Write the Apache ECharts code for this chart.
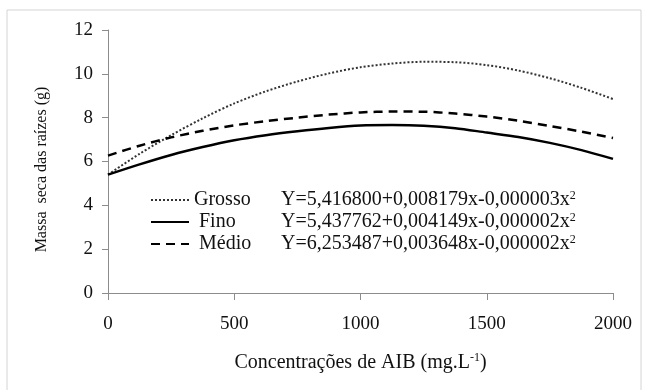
<!DOCTYPE html>
<html>
<head>
<meta charset="utf-8">
<script src="https://cdn.jsdelivr.net/npm/echarts@6/dist/echarts.min.js"></script>
<style>
  html, body { margin: 0; padding: 0; background: #fff; }
  #chart { width: 650px; height: 390px; }
</style>
</head>
<body>
<div id="chart"></div>
<script>
const concentrations = [0, 125, 250, 375, 500, 625, 750, 875, 1000, 1125, 1250, 1375, 1500, 1625, 1750, 1875, 2000]
const grosso = [5.4, 6.35, 7.2, 7.97, 8.65, 9.2, 9.65, 10.02, 10.3, 10.47, 10.55, 10.53, 10.4, 10.15, 9.8, 9.36, 8.85]
const fino = [5.4, 5.87, 6.3, 6.66, 6.97, 7.2, 7.38, 7.53, 7.64, 7.66, 7.63, 7.52, 7.32, 7.12, 6.85, 6.52, 6.12]
const medio = [6.27, 6.72, 7.1, 7.4, 7.65, 7.84, 8.0, 8.14, 8.24, 8.28, 8.27, 8.19, 8.05, 7.86, 7.62, 7.36, 7.07]

const seriesNames = ['Grosso', 'Fino', 'Médio']
const equations = [
  'Y=5,416800+0,008179x-0,000003x',
  'Y=5,437762+0,004149x-0,000002x',
  'Y=6,253487+0,003648x-0,000002x'
]

const font = 'Liberation Serif'
const chart = echarts.init(document.getElementById('chart'))

const pairs = vals => concentrations.map((x, i) => [x, vals[i]])

const lineSeries = (name, vals, type, width, color) => ({
  name,
  type: 'line',
  data: pairs(vals),
  smooth: 0.3,
  symbol: 'none',
  itemStyle: { color },
  lineStyle: { color, width, type },
  emphasis: { disabled: true }
})

const option = {
  animation: false,
  grid: { left: 108, right: 37, top: 30, bottom: 97 },
  graphic: [{
    type: 'rect',
    shape: { x: 7, y: 10, width: 634, height: 420 },
    style: { fill: 'none', stroke: '#d4d4d4', lineWidth: 1 },
    silent: true
  }],
  legend: {
    orient: 'vertical',
    left: 150,
    top: 190,
    padding: 0,
    itemGap: 2,
    itemWidth: 38,
    itemHeight: 14,
    selectedMode: false,
    itemStyle: { opacity: 0 },
    data: seriesNames,
    formatter: name => {
      const i = seriesNames.indexOf(name)
      const n = i === 0 ? 'n' : 'm'
      return `{${n}|${name}}{e|${equations[i]}}{s|2}`
    },
    textStyle: {
      fontFamily: font,
      fontSize: 20,
      color: '#111',
      rich: {
        n: { fontFamily: font, fontSize: 20, color: '#111', width: 87, lineHeight: 20 },
        m: { fontFamily: font, fontSize: 20, color: '#111', width: 82, padding: [0, 0, 0, 5], lineHeight: 20 },
        e: { fontFamily: font, fontSize: 20, color: '#111', lineHeight: 20 },
        s: { fontFamily: font, fontSize: 12, color: '#111', verticalAlign: 'top', lineHeight: 20 }
      }
    }
  },
  xAxis: {
    type: 'value',
    min: 0,
    max: 2000,
    interval: 500,
    name: '{t|Concentrações de AIB (mg.L}{s|-1}{t|)}',
    nameLocation: 'middle',
    nameGap: 59,
    nameTextStyle: {
      rich: {
        t: { fontFamily: font, fontSize: 20, color: '#111', lineHeight: 21 },
        s: { fontFamily: font, fontSize: 12, color: '#111', verticalAlign: 'top', lineHeight: 21 }
      }
    },
    axisLine: { lineStyle: { color: '#8c8c8c', width: 1 } },
    axisTick: { length: 7, lineStyle: { color: '#8c8c8c' } },
    axisLabel: { fontFamily: font, fontSize: 19, color: '#111', margin: 22, formatter: v => String(v) },
    splitLine: { show: false }
  },
  yAxis: {
    type: 'value',
    min: 0,
    max: 12,
    interval: 2,
    name: 'Massa  seca das raízes (g)',
    nameLocation: 'middle',
    nameGap: 58,
    nameTextStyle: { fontFamily: font, fontSize: 16, color: '#111', padding: [0, 16, 0, 0] },
    axisLine: { show: true, lineStyle: { color: '#8c8c8c', width: 1 } },
    axisTick: { show: true, length: 6, lineStyle: { color: '#8c8c8c' } },
    axisLabel: { fontFamily: font, fontSize: 19, color: '#111', margin: 15 },
    splitLine: { show: false }
  },
  series: [
    lineSeries('Grosso', grosso, [2, 2], 2, '#333'),
    lineSeries('Fino', fino, 'solid', 2.5, '#000'),
    lineSeries('Médio', medio, [9, 6], 2.5, '#000')
  ]
}

chart.setOption(option)
</script>
</body>
</html>
